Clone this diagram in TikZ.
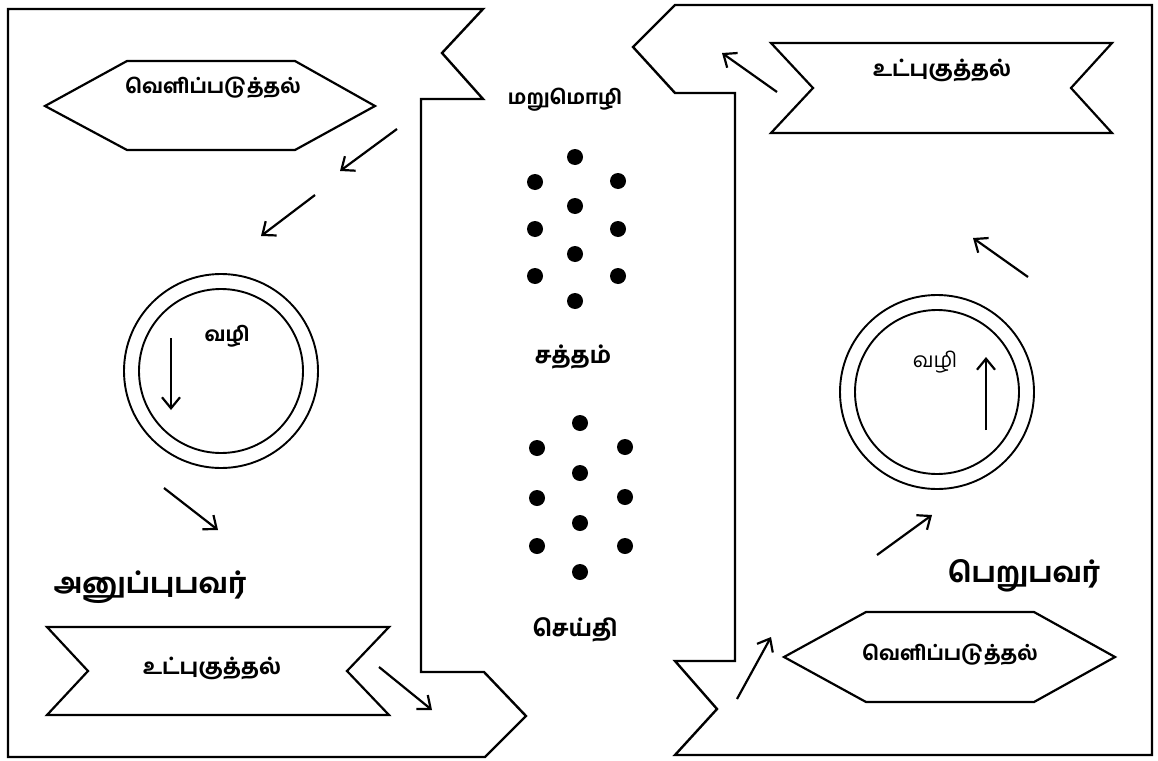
\documentclass[tikz,border=0pt]{standalone}
\usepackage{fontspec}
\newfontfamily\tamil[Script=Tamil]{Hind Madurai}
\IfFontExistsTF{Hind Madurai Bold}{\newfontfamily\tamilb[Script=Tamil]{Hind Madurai Bold}}{%
 \IfFontExistsTF{Hind Madurai SemiBold}{\newfontfamily\tamilb[Script=Tamil]{Hind Madurai SemiBold}}{%
  \IfFontExistsTF{Hind Madurai Medium}{\newfontfamily\tamilb[Script=Tamil]{Hind Madurai Medium}}{%
   \newfontfamily\tamilb[Script=Tamil,FakeBold=2.4]{Hind Madurai}}}}
\usetikzlibrary{arrows.meta}
\begin{document}
\begin{tikzpicture}[x=1pt,y=-1pt,line join=miter,
  frameline/.style={line width=2.4pt},
  shapeline/.style={line width=2.2pt},
  arr/.style={line width=2.2pt,-{Straight Barb[length=11pt,width=18pt,line width=2.2pt]}},
  lbl/.style={font=\tamilb\fontsize{20}{24}\selectfont,inner sep=0pt},
  rib/.style={font=\tamilb\fontsize{21.5}{24}\selectfont,inner sep=0pt},
  mid/.style={font=\tamilb\fontsize{20}{24}\selectfont,inner sep=0pt},
  mid2/.style={font=\tamilb\fontsize{23}{26}\selectfont,inner sep=0pt},
  big/.style={font=\tamilb\fontsize{28}{32}\selectfont,inner sep=0pt},
  reg/.style={font=\tamil\fontsize{21}{24}\selectfont,inner sep=0pt},
  dot/.style={circle,fill=black,minimum size=16pt,inner sep=0pt}]
\useasboundingbox (0,0) rectangle (1158,760);

% left frame (sender)
\draw[frameline] (8,9) -- (483,9) -- (442,53) -- (483,99) -- (421,99) -- (421,672)
  -- (484,672) -- (526,716) -- (485,757) -- (8,757) -- cycle;
% right frame (receiver)
\draw[frameline] (675,5) -- (1152,5) -- (1152,755) -- (675,755) -- (717,709)
  -- (675,661) -- (735,661) -- (735,93) -- (675,93) -- (633,47) -- cycle;

% left hexagon
\draw[shapeline] (45,106) -- (127,61) -- (295,61) -- (375,106) -- (295,150) -- (127,150) -- cycle;
\node[lbl] (lhex) at (213,88) {வெளிப்படுத்தல்};

% right hexagon
\draw[shapeline] (784,657) -- (866,612) -- (1034,612) -- (1115,657) -- (1034,702) -- (866,702) -- cycle;
\node[lbl] (rhex) at (950,655) {வெளிப்படுத்தல்};

% left ribbon
\draw[shapeline] (47,627) -- (389,627) -- (347,671) -- (389,715) -- (47,715) -- (88,671) -- cycle;
\node[rib] (lrib) at (212,668) {உட்புகுத்தல்};

% right ribbon
\draw[shapeline] (771,43) -- (1112,43) -- (1071,88) -- (1112,133) -- (771,133) -- (813,88) -- cycle;
\node[rib] (rrib) at (942,70) {உட்புகுத்தல்};

% circles
\draw[line width=1.9pt] (221,371) circle (97);
\draw[line width=1.9pt] (221,371) circle (82);
\node[lbl] (lvazhi) at (227,336) {வழி};
\draw[line width=1.9pt] (937,392) circle (97);
\draw[line width=1.9pt] (937,392) circle (82);
\node[reg] (rvazhi) at (935,362) {வழி};

% middle labels
\node[mid] (reply) at (565,100) {மறுமொழி};
\node[mid2] (noise) at (573,357) {சத்தம்};
\node[mid2] (msg) at (575,630) {செய்தி};

% big labels
\node[big] (sender) at (150,587) {அனுப்புபவர்};
\node[big] (receiver) at (1024,576) {பெறுபவர்};

% dots upper
\node[dot] (a1) at (575,157) {};
\node[dot] (a2) at (535,182) {};
\node[dot] (a3) at (618,181) {};
\node[dot] (a4) at (575,206) {};
\node[dot] (a5) at (535,229) {};
\node[dot] (a6) at (618,229) {};
\node[dot] (a7) at (575,254) {};
\node[dot] (a8) at (535,276) {};
\node[dot] (a9) at (618,276) {};
\node[dot] (a10) at (575,301) {};
% dots lower
\node[dot] (b1) at (580,423) {};
\node[dot] (b2) at (537,448) {};
\node[dot] (b3) at (625,447) {};
\node[dot] (b4) at (580,473) {};
\node[dot] (b5) at (537,498) {};
\node[dot] (b6) at (625,497) {};
\node[dot] (b7) at (580,523) {};
\node[dot] (b8) at (537,546) {};
\node[dot] (b9) at (625,546) {};
\node[dot] (b10) at (580,572) {};

% arrow coordinates
\coordinate (p1s) at (397,129); \coordinate (p1e) at (340,171);
\coordinate (p2s) at (315,195); \coordinate (p2e) at (261,236);
\coordinate (p3s) at (171,338); \coordinate (p3e) at (171,410);
\coordinate (p4s) at (164,488); \coordinate (p4e) at (218,530);
\coordinate (p5s) at (379,667); \coordinate (p5e) at (432,710);
\coordinate (p6s) at (737,699); \coordinate (p6e) at (771,637);
\coordinate (p7s) at (877,555); \coordinate (p7e) at (932,515);
\coordinate (p8s) at (986,430); \coordinate (p8e) at (986,357);
\coordinate (p9s) at (1028,277); \coordinate (p9e) at (973,238);
\coordinate (p10s) at (777,92); \coordinate (p10e) at (722,53);

\foreach \i in {1,...,10} {\draw[arr] (p\i s) -- (p\i e);}
\end{tikzpicture}
\end{document}
